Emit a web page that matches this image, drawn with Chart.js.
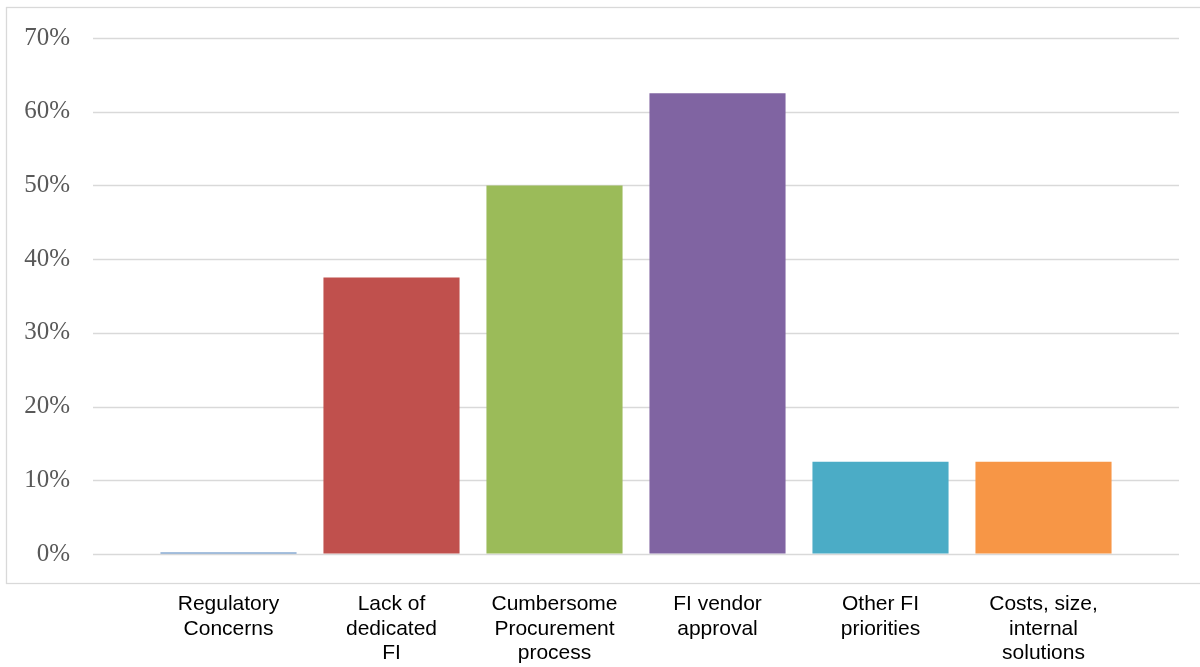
<!DOCTYPE html>
<html>
<head>
<meta charset="utf-8">
<script src="https://cdn.jsdelivr.net/npm/chart.js@4"></script>
<style>
  html, body { margin: 0; padding: 0; background: #fff; }
  #wrap { width: 1200px; height: 667px; position: relative; }
</style>
</head>
<body>
<div id="wrap"><canvas id="myChart"></canvas></div>
<script>
// data
var categories = [
  ['Regulatory', 'Concerns'],
  ['Lack of', 'dedicated', 'FI'],
  ['Cumbersome', 'Procurement', 'process'],
  ['FI vendor', 'approval'],
  ['Other FI', 'priorities'],
  ['Costs, size,', 'internal', 'solutions']
];
var shares = [0, 37.5, 50, 62.5, 12.5, 12.5];
var barColors = ['#4F81BD', '#C0504D', '#9BBB59', '#8064A2', '#4BACC6', '#F79646'];
var yTicks = [0, 10, 20, 30, 40, 50, 60, 70];

// outer frame + gridlines that run wider than the bars
var frameAndGrid = {
  id: 'frameAndGrid',
  beforeDatasetsDraw: function(chart) {
    var ctx = chart.ctx, area = chart.chartArea, y = chart.scales.y;
    ctx.save();
    ctx.strokeStyle = '#D9D9D9';
    ctx.lineWidth = 1.3;
    ctx.strokeRect(6.5, 7.5, 1200, 576);
    yTicks.forEach(function(t) {
      var py = Math.round(y.getPixelForValue(t)) + 0.5;
      ctx.beginPath();
      ctx.moveTo(area.left - 54, py);
      ctx.lineTo(area.right + 54, py);
      ctx.stroke();
    });
    ctx.restore();
  }
};

var ctx = document.getElementById('myChart').getContext('2d');
var chart = new Chart(ctx, {
  type: 'bar',
  data: {
    labels: categories,
    datasets: [{
      data: shares,
      backgroundColor: barColors,
      borderWidth: 0,
      minBarLength: 1.5,
      categoryPercentage: 1,
      barPercentage: 0.835
    }]
  },
  options: {
    responsive: true,
    maintainAspectRatio: false,
    animation: false,
    layout: { padding: { left: 0, right: 75, top: 37, bottom: 0 } },
    plugins: { legend: { display: false }, tooltip: { enabled: false } },
    scales: {
      x: {
        grid: { display: false },
        border: { display: false },
        ticks: {
          color: '#000',
          font: { family: 'Liberation Sans', size: 21, lineHeight: 1.17 },
          padding: 30,
          maxRotation: 0,
          autoSkip: false
        },
        afterFit: function(s) { s.height = 113; }
      },
      y: {
        min: 0,
        max: 70,
        // tick marks kept invisible; they only push the labels left
        grid: { drawOnChartArea: false, drawTicks: true, tickLength: 54, color: 'rgba(0,0,0,0)' },
        border: { display: false },
        afterBuildTicks: function(s) { s.ticks = yTicks.map(function(v) { return { value: v }; }); },
        ticks: {
          color: '#595959',
          font: { family: 'Liberation Serif', size: 25 },
          padding: 23,
          callback: function(v) { return v + '%'; }
        },
        afterFit: function(s) { s.width = 147; }
      }
    }
  },
  plugins: [frameAndGrid]
});
</script>
</body>
</html>
